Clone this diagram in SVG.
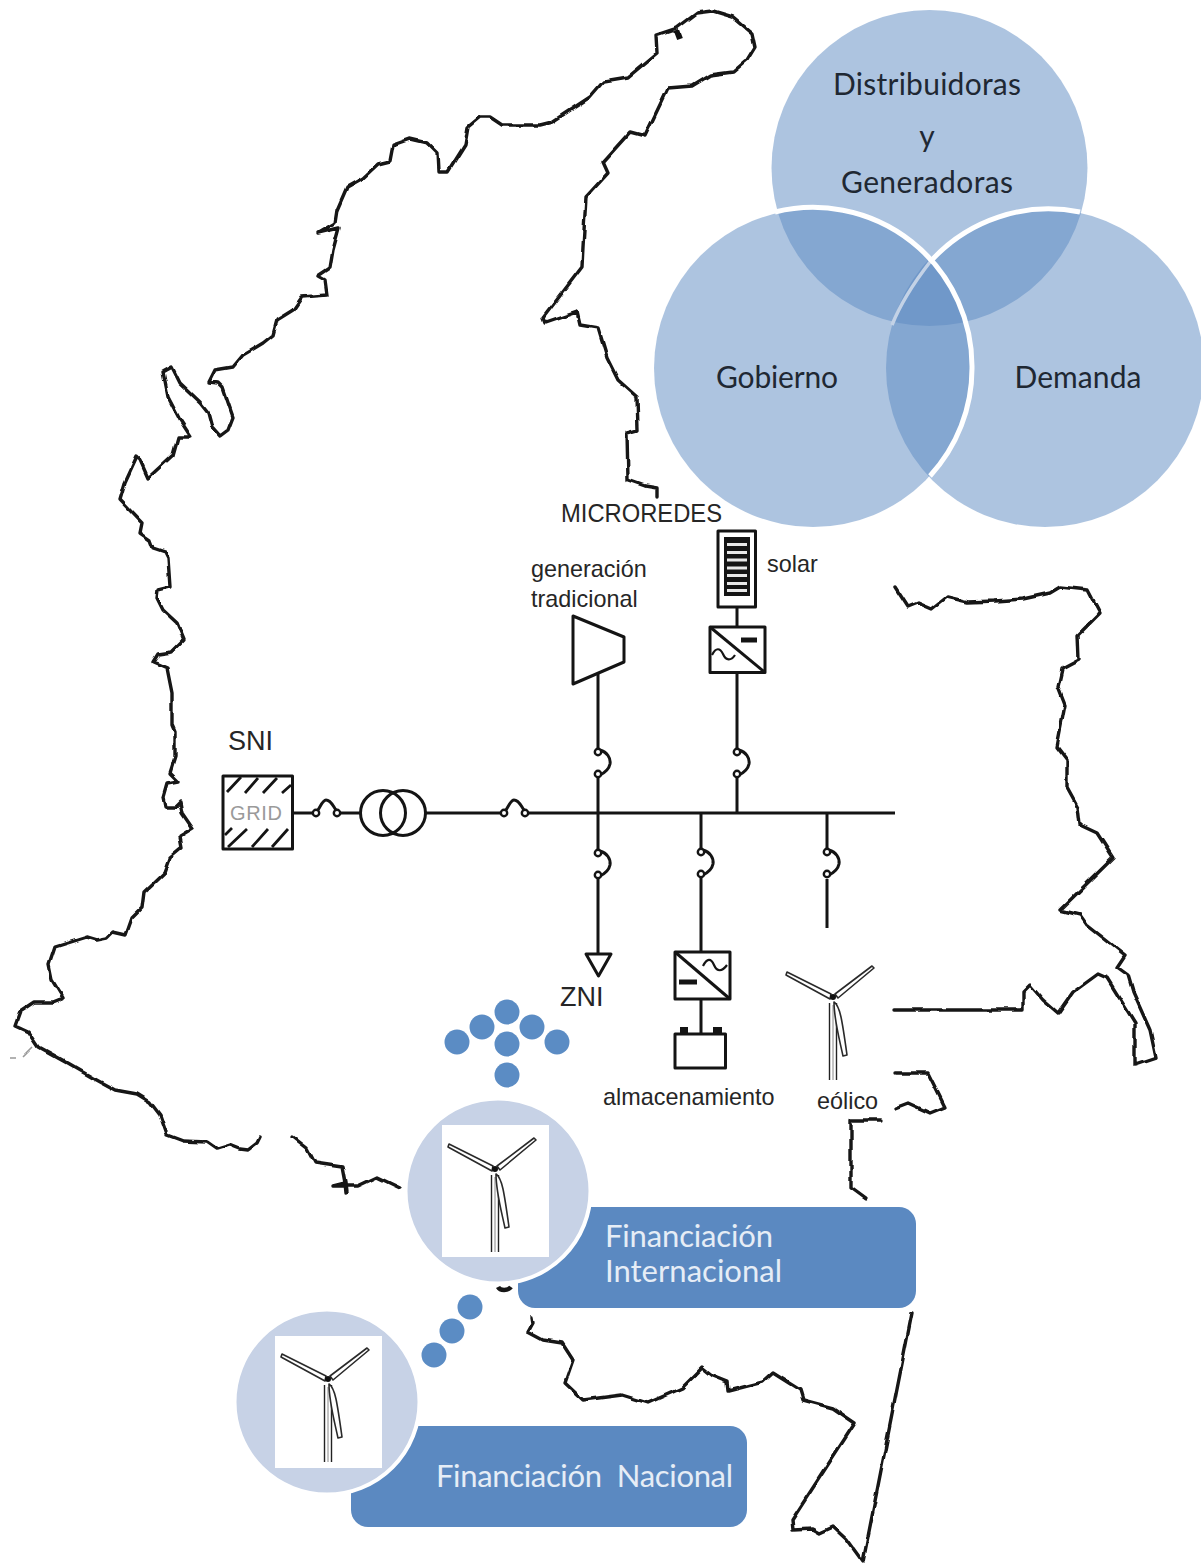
<svg xmlns="http://www.w3.org/2000/svg" xmlns:xlink="http://www.w3.org/1999/xlink" width="1201" height="1568" viewBox="0 0 1201 1568">
<style>
.map{fill:none;stroke:#161616;stroke-width:3.4;stroke-linejoin:round;stroke-linecap:round}
.w{fill:none;stroke:#141414;stroke-width:3;stroke-linecap:butt;stroke-linejoin:round}
.sym{fill:#fff;stroke:#141414;stroke-width:3;stroke-linejoin:round}
.lab{font-family:"Liberation Sans",Arial,sans-serif;fill:#262626}
.cal{font-family:Lato,"Open Sans",sans-serif;font-size:30px;fill:#1f2833;text-anchor:middle}
.fin{font-family:Lato,"Open Sans",sans-serif;font-size:31px;fill:#e6edf6}
.venn{fill:#5b89c1;fill-opacity:.5}
.dot{fill:#5b8cc4}
.bar{fill:#5b89c1}
.disc{fill:#c7d2e6;stroke:#fff;stroke-width:4}
.bl{fill:#fff;stroke:#2a2a2a;stroke-width:1.6;stroke-linejoin:round}
.tw{stroke:#222;stroke-width:1.4;fill:none}
</style>
<defs>
<filter id="soft" filterUnits="userSpaceOnUse" x="0" y="0" width="1201" height="1568" color-interpolation-filters="sRGB">
<feTurbulence type="fractalNoise" baseFrequency="0.07" numOctaves="1" seed="4" result="n"/>
<feDisplacementMap in="SourceGraphic" in2="n" scale="5" xChannelSelector="R" yChannelSelector="G" result="d"/>
<feGaussianBlur in="d" stdDeviation="0.55"/>
</filter>
<g id="fuseV">
<path class="w" d="M2,-2C9,0 13,6 12,12C11,17 6,21 2,23"/>
<circle cx="0" cy="0" r="3.200" fill="#fff" stroke="#141414" stroke-width="2.4"/>
<circle cx="0" cy="22" r="3.200" fill="#fff" stroke="#141414" stroke-width="2.4"/>
</g>
<g id="fuseH">
<path class="w" d="M2,-3C5,-8 7,-13 10,-13C15,-13 17,-7 20,-3"/>
<circle cx="0" cy="0" r="3.200" fill="#fff" stroke="#141414" stroke-width="2.4"/>
<circle cx="21" cy="0" r="3.200" fill="#fff" stroke="#141414" stroke-width="2.4"/>
</g>
<g id="turbine">
<path class="bl" d="M-2,-3L-46,-25L-47,-22L-3,2Z"/>
<path class="bl" d="M2,-3L39,-31L41,-29L5,1Z"/>
<path class="tw" d="M-3.5,6V83M3.5,6V83"/>
<path d="M0,8V83" stroke="#888" stroke-width="1" fill="none"/>
<path class="bl" d="M1,5C7,9 9,22 14,58L10,59C5,36 1,22 1,5Z"/>
<circle cx="0" cy="0" r="3" fill="#111"/>
</g>
</defs>
<rect width="1201" height="1568" fill="#fff"/>

<g id="map" filter="url(#soft)">
<path class="map" d="M260,1137L257,1143L248,1150L240,1149L230,1145L217,1149L207,1142L183,1141L167,1135L160,1115L150,1102L137,1094L115,1090L93,1078L67,1063L38,1047L28,1032L15,1026L20,1012L35,1002L53,1002L63,998L52,980L49,965L55,947L87,937L97,940L107,938L113,932L126,935L132,918L142,908L144,892L165,872L170,858L182,848L180,837L193,829L182,813L180,802L175,807L165,807L163,797L167,783L178,781L170,773L175,757L175,732L172,725L172,693L167,668L153,662L158,654L172,652L184,640L177,623L163,610L157,598L158,590L170,587L168,558L165,552L153,548L150,540L140,533L142,523L120,500L125,483L137,457L140,460L148,478L173,455L178,437L191,437L180,420L168,397L163,372L172,367L180,383L200,402L208,412L212,427L220,436L228,430L233,417L223,388L218,383L209,382L215,370L233,367L243,355L263,343L273,335L277,320L293,310L302,297L327,295L325,280L318,276L330,268L333,250L339,228L318,233L335,223L337,210L347,187L363,178L378,164L390,161L393,145L410,139L427,143L437,153L438,172L448,172L465,145L468,127L480,117L490,117L502,125L540,125L552,122L590,97L603,82L627,78L657,53L656,35L677,28L697,13L713,11L733,17L752,33L755,47L747,60L733,72L710,75L692,86L668,88L645,136L630,132L603,162L608,173L586,197L583,247L582,267L543,318L545,323L577,312L580,325L598,328L607,358L618,380L637,397L638,430L627,433L628,480L645,486L657,488L657,497"/>
<path d="M676,30L679,38" stroke="#111" stroke-width="6" fill="none"/>
<path d="M33,1047L23,1057M16,1058L11,1058" stroke="#999" stroke-width="1.6" fill="none"/>
<path class="map" d="M895,587L908,607L918,603L932,609L947,597L968,602L995,601L1023,599L1050,593L1060,587L1088,590L1100,613L1078,635L1079,660L1062,669L1058,687L1065,705L1057,747L1067,760L1067,787L1078,807L1080,825L1097,833L1113,858L1060,910L1080,915L1087,925L1125,955L1117,967L1128,975L1133,992L1150,1030L1156,1058L1135,1065L1135,1023L1107,978L1098,974L1072,993L1058,1013L1043,1000L1030,985L1023,992L1023,1010L895,1010"/>
<path class="map" d="M895,1073L928,1073L945,1107L930,1113L908,1103L895,1108"/>
<path class="map" d="M881,1120L851,1120L851,1187L866,1198"/>
<path class="map" d="M532,1317L533,1323L528,1332L543,1340L562,1343L573,1360L565,1383L583,1400L622,1395L648,1403L682,1388L702,1368L712,1376L727,1382L728,1391L763,1382L773,1373L800,1390L803,1400L833,1408L855,1423L792,1520L793,1530L813,1529L820,1533L833,1527L847,1540L863,1562L912,1313"/>
<path class="map" d="M293,1137L307,1148L315,1163L342,1167L345,1183L333,1186L358,1186L377,1177L400,1188M345,1183L346,1193"/>
</g>
<path id="map-fragment" d="M498,1287C500,1291 508,1291 511,1287" fill="none" stroke="#161616" stroke-width="4.5"/>

<g id="venn">
<g id="venn-distribuidoras"><circle class="venn" cx="929.5" cy="168" r="158"/></g>
<g id="venn-demanda"><circle class="venn" cx="1045" cy="368" r="159"/></g>
<g id="venn-gobierno"><circle class="venn" cx="813" cy="368" r="159"/></g>
<path d="M930,262C916,280 902,300 892,325" fill="none" stroke="#c3d2e6" stroke-width="3.5"/>
<path d="M1080,212A159,159 0 0 0 930,262" fill="none" stroke="#fff" stroke-width="5"/>
<path d="M775,212A159,159 0 0 1 972,368A159,159 0 0 1 930,476" fill="none" stroke="#fff" stroke-width="5"/>
<text class="cal" x="927" y="95" textLength="188">Distribuidoras</text>
<text class="cal" x="927" y="147">y</text>
<text class="cal" x="927" y="193" textLength="172">Generadoras</text>
<text class="cal" x="777" y="388" textLength="122">Gobierno</text>
<text class="cal" x="1078" y="388" textLength="127">Demanda</text>
</g>

<g id="connectors">
<path class="w" d="M293,813H314M339,813H361M426,813H502M528,813H895"/>
<path class="w" d="M598,673V749M598,776V849M598,876V954"/>
<path class="w" d="M737,607V627M737,673V749M737,776V813"/>
<path class="w" d="M701,813V850M701,876V952M701,999V1033"/>
<path class="w" d="M827,813V849M827,879V928"/>
<use xlink:href="#fuseH" href="#fuseH" x="316" y="813"/>
<use xlink:href="#fuseH" href="#fuseH" x="504" y="813"/>
<use xlink:href="#fuseV" href="#fuseV" x="598" y="752"/>
<use xlink:href="#fuseV" href="#fuseV" x="737" y="752"/>
<use xlink:href="#fuseV" href="#fuseV" x="598" y="853"/>
<use xlink:href="#fuseV" href="#fuseV" x="701" y="852"/>
<use xlink:href="#fuseV" href="#fuseV" x="827" y="852"/>
</g>

<g id="grid">
<rect class="sym" x="223" y="776" width="69.500" height="73"/>
<path d="M227,792L241,777M245,793L258,778M263,793L277,778M282,793L291,785M225,835L232,828M228,847L247,829M252,847L268,829M272,847L288,829" fill="none" stroke="#141414" stroke-width="2.8"/>
<text x="230" y="820" font-family="Liberation Sans,Arial,sans-serif" font-size="20" fill="#9a9a9a" textLength="52">GRID</text>
<text class="lab" x="228" y="750" font-size="27">SNI</text>
</g>

<g id="transformer">
<circle cx="383" cy="813" r="22.500" fill="none" stroke="#141414" stroke-width="3"/>
<circle cx="403" cy="813" r="22.500" fill="none" stroke="#141414" stroke-width="3"/>
</g>

<g id="generacion">
<path class="sym" d="M573,616L624,637V662L573,684Z"/>
<text class="lab" x="531" y="577" font-size="23.400">generación</text>
<text class="lab" x="531" y="607" font-size="23.400">tradicional</text>
</g>

<g id="solar">
<rect class="sym" x="718" y="531" width="37.500" height="76"/>
<rect x="724" y="537" width="26" height="59" fill="#141414"/>
<path d="M727,544.500H747M727,552.500H747M727,560H747M727,568H747M727,575.500H747M727,583.500H747M727,590.500H747" stroke="#e8e8e8" stroke-width="3.2"/>
<rect class="sym" x="710" y="627" width="55" height="45.500"/>
<path d="M710,627L765,672.500" fill="none" stroke="#141414" stroke-width="3"/>
<path d="M741,640H757" stroke="#141414" stroke-width="5"/>
<path d="M712,655C716,647 720,648 723,654C726,661 731,661 735,655" fill="none" stroke="#141414" stroke-width="2.2"/>
<text class="lab" x="767" y="572" font-size="23.400">solar</text>
<text class="lab" x="561" y="522" font-size="25" textLength="161" lengthAdjust="spacingAndGlyphs">MICROREDES</text>
</g>

<g id="zni">
<path class="sym" d="M586,954H611L598.500,976Z"/>
<text class="lab" x="560" y="1006" font-size="27">ZNI</text>
</g>

<g id="almacenamiento">
<rect class="sym" x="675" y="952" width="55" height="47"/>
<path d="M675,952L730,999" fill="none" stroke="#141414" stroke-width="3"/>
<path d="M679,982H697" stroke="#141414" stroke-width="5"/>
<path d="M703,966C707,958 711,958 714,965C717,972 722,972 727,965" fill="none" stroke="#141414" stroke-width="2.2"/>
<rect class="sym" x="675" y="1034" width="50.500" height="34"/>
<rect x="680" y="1027" width="8" height="6" fill="#141414"/>
<rect x="713" y="1027" width="9" height="6" fill="#141414"/>
<text class="lab" x="603" y="1105" font-size="23.400">almacenamiento</text>
</g>

<g id="eolico">
<use xlink:href="#turbine" href="#turbine" x="833" y="997"/>
<text class="lab" x="817" y="1109" font-size="23.400">eólico</text>
</g>

<g id="flecha-arriba">
<circle class="dot" cx="457" cy="1042" r="12.500"/>
<circle class="dot" cx="482" cy="1027" r="12.500"/>
<circle class="dot" cx="507" cy="1012" r="12.500"/>
<circle class="dot" cx="532" cy="1027" r="12.500"/>
<circle class="dot" cx="557" cy="1042" r="12.500"/>
<circle class="dot" cx="507" cy="1044" r="12.500"/>
<circle class="dot" cx="507" cy="1075" r="12.500"/>
</g>
<g id="flecha-abajo">
<circle class="dot" cx="470" cy="1307" r="12.500"/>
<circle class="dot" cx="452" cy="1331" r="12.500"/>
<circle class="dot" cx="434" cy="1355" r="12.500"/>
</g>

<g id="financiacion-internacional">
<rect class="bar" x="518" y="1207" width="398" height="101" rx="17"/>
<circle class="disc" cx="498" cy="1191" r="92.500"/>
<rect x="442" y="1125" width="107" height="132" fill="#fff"/>
<use xlink:href="#turbine" href="#turbine" x="495" y="1169"/>
<text class="fin" x="605" y="1247" textLength="168">Financiación</text>
<text class="fin" x="605" y="1282" textLength="177">Internacional</text>
</g>

<g id="financiacion-nacional">
<rect class="bar" x="351" y="1426" width="396" height="101" rx="17"/>
<circle class="disc" cx="327" cy="1402" r="92.500"/>
<rect x="275" y="1336" width="107" height="132" fill="#fff"/>
<use xlink:href="#turbine" href="#turbine" x="328" y="1379"/>
<text class="fin" x="436" y="1487" xml:space="preserve" textLength="297">Financiación  Nacional</text>
</g>
</svg>
